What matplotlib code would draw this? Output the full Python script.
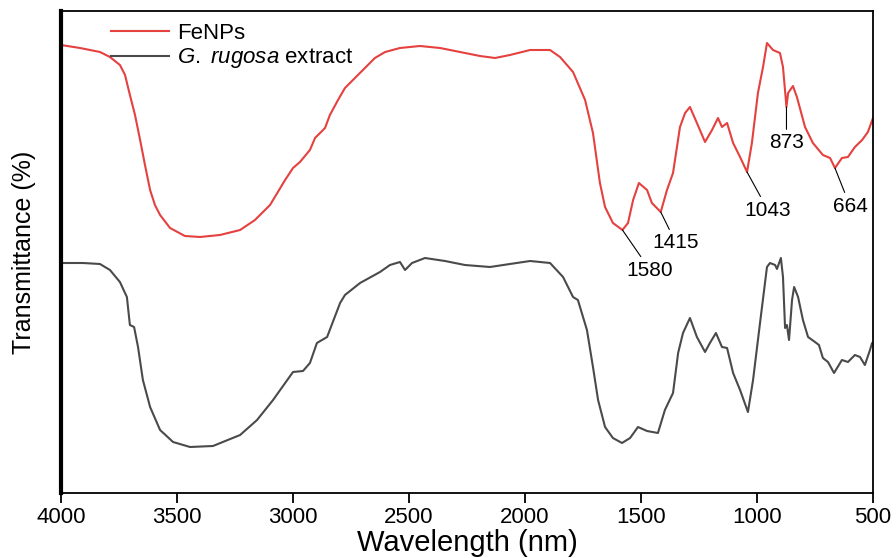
import matplotlib
matplotlib.use('Agg')
import matplotlib.pyplot as plt

plt.rcParams['font.family'] = ['Liberation Sans', 'DejaVu Sans']
plt.rcParams['mathtext.fontset'] = 'custom'
plt.rcParams['mathtext.it'] = 'Liberation Sans:italic'
plt.rcParams['mathtext.rm'] = 'Liberation Sans'

# FeNPs spectrum (wavenumber, transmittance in arbitrary units)
fe_x = [4000, 3918, 3832, 3789, 3746, 3724, 3703, 3681, 3659, 3638, 3616, 3595,
        3573, 3530, 3466, 3401, 3315, 3228, 3164, 3099, 3034, 3000, 2970, 2927,
        2905, 2862, 2841, 2806, 2776, 2733, 2690, 2647, 2603, 2539, 2453, 2366,
        2280, 2194, 2129, 2065, 1978, 1892, 1849, 1793, 1741, 1707, 1677, 1655,
        1621, 1580, 1556, 1534, 1509, 1474, 1453, 1415, 1388, 1362, 1332, 1310,
        1289, 1259, 1224, 1194, 1168, 1151, 1129, 1103, 1073, 1043, 1022, 996,
        974, 957, 931, 901, 888, 873, 866, 845, 828, 793, 759, 716, 685, 664,
        634, 608, 578, 547, 522, 500]
fe_y = [448, 445, 441, 436, 428, 418, 398, 378, 353, 328, 303, 288,
        278, 265, 257, 256, 258, 263, 273, 288, 313, 325, 331, 343,
        355, 365, 378, 393, 405, 415, 425, 435, 441, 445, 447, 445,
        441, 437, 435, 438, 443, 443, 436, 421, 393, 360, 310, 286,
        270, 263, 270, 293, 310, 303, 290, 281, 303, 320, 366, 380,
        386, 370, 351, 363, 375, 366, 370, 350, 336, 321, 350, 400,
        426, 450, 443, 440, 426, 386, 400, 407, 396, 366, 350, 338, 335, 325,
        335, 336, 346, 353, 361, 375]

# G. rugosa extract spectrum
gr_x = [4000, 3905, 3832, 3789, 3746, 3716, 3703, 3685, 3668, 3647, 3616, 3573,
        3517, 3444, 3345, 3228, 3155, 3086, 3000, 2957, 2927, 2897, 2853, 2797,
        2776, 2711, 2625, 2582, 2539, 2517, 2487, 2431, 2345, 2259, 2151, 2065,
        1978, 1892, 1836, 1793, 1772, 1733, 1707, 1685, 1655, 1621, 1582, 1547,
        1513, 1474, 1427, 1397, 1362, 1340, 1319, 1289, 1259, 1224, 1203, 1177,
        1151, 1129, 1103, 1073, 1039, 1017, 987, 957, 944, 922, 914, 897, 888,
        879, 871, 862, 849, 840, 823, 802, 780, 750, 733, 716, 694, 668, 634,
        608, 578, 556, 535, 513, 504, 500]
gr_y = [230, 230, 229, 223, 211, 196, 168, 166, 146, 113, 86, 63,
        51, 46, 47, 58, 73, 93, 121, 122, 130, 150, 156, 190,
        198, 210, 221, 228, 231, 223, 230, 235, 232, 228, 226, 229,
        232, 230, 216, 196, 193, 163, 126, 93, 66, 55, 50, 55,
        66, 62, 60, 83, 100, 140, 160, 175, 156, 141, 150, 160,
        146, 145, 120, 103, 81, 113, 170, 226, 230, 228, 224, 235, 216,
        165, 168, 153, 193, 206, 196, 173, 156, 151, 148, 135, 131, 120, 133,
        131, 138, 136, 128, 143, 150, 150]

peaks = [1580, 1415, 1043, 873, 664]
peak_y = [263, 281, 321, 386, 325]
label_x = [1461, 1349, 953, 873, 599]
label_y = [223, 250, 283, 350, 287]

fig = plt.figure(figsize=(8.96, 5.58), dpi=100)
ax = fig.add_axes([61/896, 1-493/558, 812/896, 482/558])

ax.plot(fe_x, fe_y, color='#e4413f', lw=1.5, label='FeNPs')
ax.plot(gr_x, gr_y, color='#4a4a4a', lw=1.5, label=r'$\mathit{G.}$ $\mathit{rugosa}$ extract')

for px, py, tx, ty in zip(peaks, peak_y, label_x, label_y):
    ax.annotate(str(px), xy=(px, py), xytext=(tx, ty), fontsize=15,
                ha='center', va='center',
                arrowprops=dict(arrowstyle='-', color='black', lw=0.8,
                                shrinkA=1, shrinkB=0))

ax.set_xlim(4000, 500)
ax.set_ylim(0, 482)
ax.set_xticks(range(4000, 499, -500))
ax.set_yticks([])
ax.tick_params(axis='x', direction='out', length=7, width=1.3, labelsize=16, pad=3)
for s in ['top', 'right', 'bottom']:
    ax.spines[s].set_linewidth(1.3)
ax.spines['left'].set_linewidth(3)

ax.set_xlabel('Wavelength (nm)', fontsize=21, labelpad=1)
ax.set_ylabel('Transmittance (%)', fontsize=18, labelpad=18)

ax.legend(loc='upper left', bbox_to_anchor=(0.048, 0.998), frameon=False,
          fontsize=16, borderpad=0, handlelength=2.6, handletextpad=0.35,
          labelspacing=0.1)

fig.savefig('out.png', dpi=100)
